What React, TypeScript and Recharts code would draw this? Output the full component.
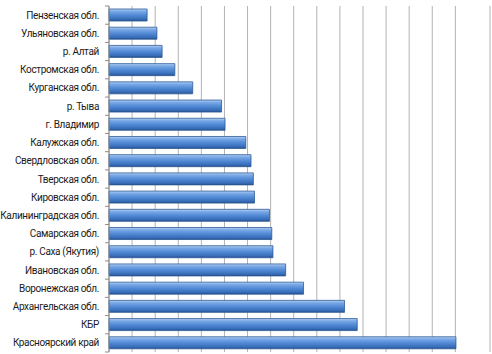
import { Bar, BarChart, CartesianGrid, XAxis, YAxis } from "recharts";

const regions = [
  "Пензенская обл.",
  "Ульяновская обл.",
  "р. Алтай",
  "Костромская обл.",
  "Курганская обл.",
  "р. Тыва",
  "г. Владимир",
  "Калужская обл.",
  "Свердловская обл.",
  "Тверская обл.",
  "Кировская обл.",
  "Калининградская обл.",
  "Самарская обл.",
  "р. Саха (Якутия)",
  "Ивановская обл.",
  "Воронежская обл.",
  "Архангельская обл.",
  "КБР",
  "Красноярский край",
];

const values = [3.3, 4.15, 4.6, 5.7, 7.25, 9.75, 10.05, 11.85, 12.3, 12.5, 12.6, 13.9, 14.1, 14.2, 15.3, 16.85, 20.4, 21.5, 30.05];

const gridTicks = Array.from({ length: 34 }, (_, i) => i);

const data = regions.map((name, i) => ({ name, value: values[i] }));

const W = 492;
const H = 354;
const MARGIN = { top: 6, right: 2, bottom: 2, left: 0 };
const AXIS_W = 109;
const BAND = (H - MARGIN.top - MARGIN.bottom) / regions.length;

function RegionTick(props: any) {
  const { y, payload, index } = props;
  const last = index === regions.length - 1;
  return (
    <g>
      <text x={AXIS_W - 10} y={y} dy={3.5} textAnchor="end" fontSize={10} letterSpacing={-0.35} fill="#1a1a1a" fontFamily="Roboto, sans-serif">
        {payload.value}
      </text>
      <line x1={AXIS_W - 4} x2={AXIS_W} y1={y - BAND / 2} y2={y - BAND / 2} stroke="#8c8c8c" />
      {last && <line x1={AXIS_W - 4} x2={AXIS_W} y1={y + BAND / 2} y2={y + BAND / 2} stroke="#8c8c8c" />}
    </g>
  );
}

export default function App() {
  return (
    <div style={{ position: "absolute", left: 0, top: 0, width: W, height: H, background: "#fff" }}>
      <BarChart width={W} height={H} data={data} layout="vertical" margin={MARGIN} barSize={12}>
        <defs>
          <linearGradient id="barfill" x1="0" y1="0" x2="0" y2="1">
            <stop offset="0%" stopColor="#b8d3f5" />
            <stop offset="20%" stopColor="#78a8e6" />
            <stop offset="55%" stopColor="#4f87d3" />
            <stop offset="85%" stopColor="#376cb8" />
            <stop offset="100%" stopColor="#23508e" />
          </linearGradient>
        </defs>
        <CartesianGrid horizontal={false} stroke="#b3b3b3" />
        <XAxis type="number" domain={[0, 33]} ticks={gridTicks} hide />
        <YAxis
          type="category"
          dataKey="name"
          width={AXIS_W}
          interval={0}
          tickLine={false}
          axisLine={{ stroke: "#8c8c8c" }}
          tick={<RegionTick />}
        />
        <Bar dataKey="value" fill="url(#barfill)" stroke="#2d5a94" strokeWidth={0.8} isAnimationActive={false} />
      </BarChart>
    </div>
  );
}
